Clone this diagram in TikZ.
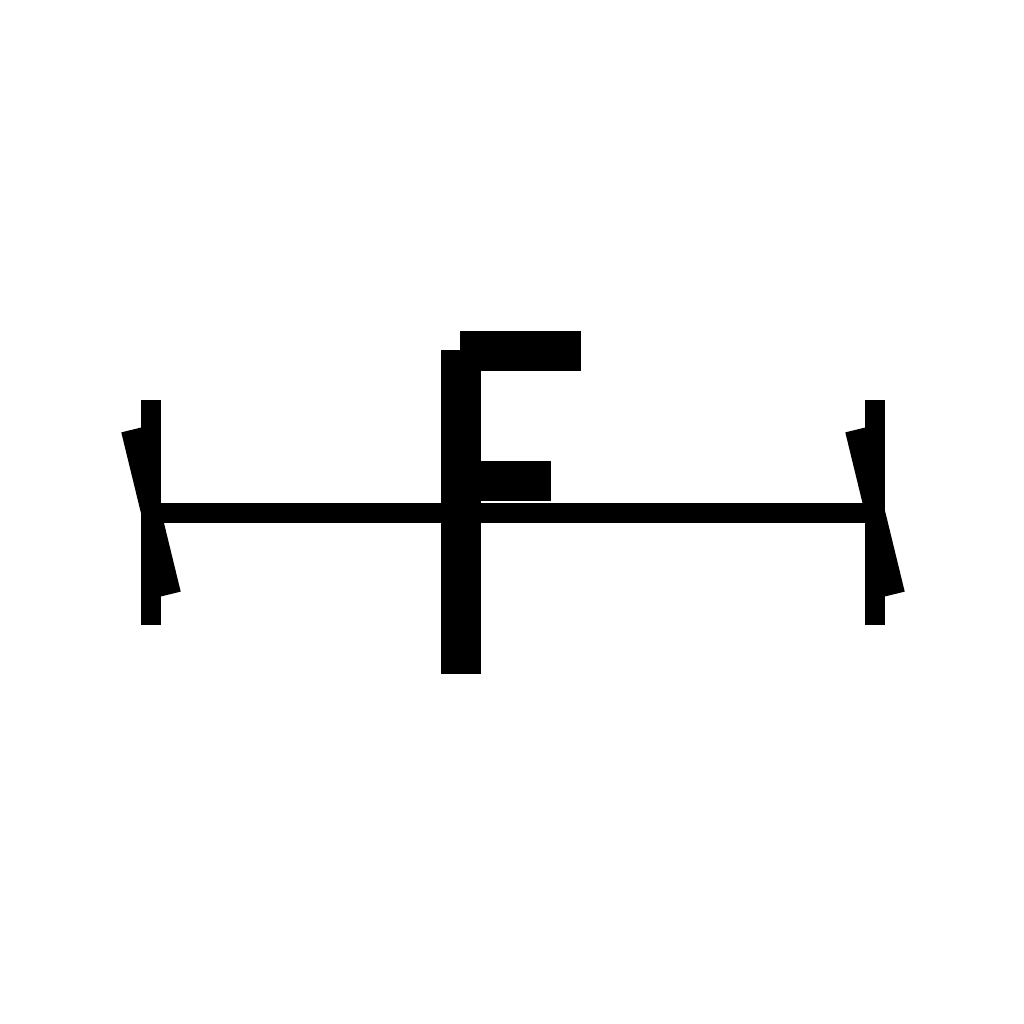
\documentclass[tikz,border=0pt]{standalone}
\usetikzlibrary{positioning}
\tikzset{>=latex}
\tikzset{
  heavy/.style={line width=2mm},
}

\begin{document}
\begin{tikzpicture}[x=0.01cm,y=-0.01cm]
\useasboundingbox (0,0) rectangle (1024,1024);

% ---------- Beam ----------
\coordinate (leftend) at (151,513);
\coordinate (rightend) at (875,513);
\draw[heavy] (leftend) -- (rightend);

% ---------- End stops ----------
\foreach \x in {151,875} {
  \draw[heavy] (\x,400) -- (\x,625);
  \draw[heavy] (\x-20,430) -- (\x+20,594);
}

% ---------- F ----------
\fill (441,350) rectangle (481,674);
\fill (460,331) rectangle (581,371);
\fill (481,461) rectangle (551,501);

\end{tikzpicture}
\end{document}
